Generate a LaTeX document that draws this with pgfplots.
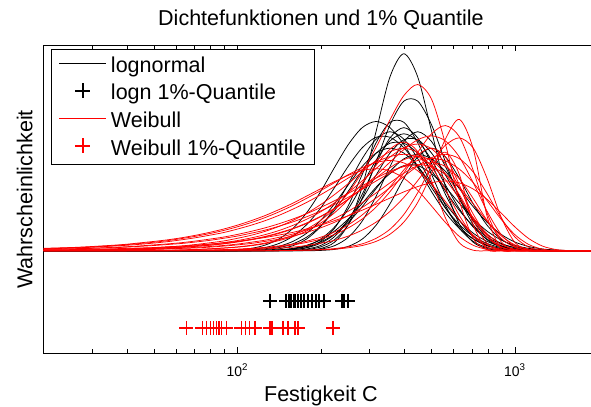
\documentclass[border=0pt]{standalone}
\usepackage{fontspec}
\setmainfont{Liberation Sans}
\usepackage{pgfplots}
\usepackage{pgfplotstable}
\pgfplotsset{compat=1.18}

% lognormal densities (one column per fitted sample)
\pgfplotstableread{
x b1 b2 b3 b4 b5 b6 b7 b8 b9 b10 b11 b12 b13 b14 b15
19.95 0 0 0 0 0 0 0 0 0 0 0 0 0 0 0
79.43 0 0 0 0 0 0 0 0 0 0 0 0 0 0 0
89.13 0 0 .002 0 0 0 .001 0 0 0 0 0 0 0 0
100 0 0 .005 0 0 0 .003 0 .001 0 0 .001 0 0 0
112.2 0 0 .012 0 .001 0 .007 0 .002 0 0 .004 0 .001 0
125.9 0 0 .028 0 .003 .001 .016 0 .006 0 0 .010 .001 .002 0
141.3 0 0 .058 .001 .010 .003 .036 0 .016 .002 0 .022 .004 .005 .001
158.5 0 .001 .109 .005 .025 .010 .071 .001 .034 .006 0 .046 .009 .012 .002
177.8 .002 .006 .186 .016 .058 .025 .128 .002 .067 .015 0 .086 .021 .027 .009
199.5 .011 .019 .288 .046 .118 .057 .208 .008 .121 .037 .002 .148 .043 .053 .026
223.9 .042 .054 .406 .110 .209 .116 .308 .025 .197 .080 .007 .229 .081 .096 .069
251.2 .130 .128 .518 .221 .327 .205 .413 .066 .291 .151 .022 .322 .139 .156 .150
281.8 .312 .257 .600 .372 .449 .321 .502 .145 .391 .252 .057 .411 .215 .231 .275
316.2 .582 .433 .630 .526 .544 .442 .553 .266 .475 .369 .125 .476 .303 .310 .424
354.8 .847 .613 .600 .626 .580 .535 .553 .410 .524 .476 .229 .500 .387 .376 .550
398.1 .960 .729 .518 .626 .544 .570 .502 .532 .524 .541 .353 .476 .448 .415 .600
446.7 .847 .729 .406 .526 .449 .535 .413 .580 .475 .541 .458 .411 .470 .415 .550
501.2 .582 .613 .288 .372 .327 .442 .308 .532 .391 .476 .500 .322 .448 .376 .424
562.3 .312 .433 .186 .221 .209 .321 .208 .410 .291 .369 .458 .229 .387 .310 .275
631.0 .130 .257 .109 .110 .118 .205 .128 .266 .197 .252 .353 .148 .303 .231 .150
707.9 .042 .128 .058 .046 .058 .116 .071 .145 .121 .151 .229 .086 .215 .156 .069
794.3 .011 .054 .028 .016 .025 .057 .036 .066 .067 .080 .125 .046 .139 .096 .026
891.3 .002 .019 .012 .005 .010 .025 .016 .025 .034 .037 .057 .022 .081 .053 .009
1000 0 .006 .005 .001 .003 .010 .007 .008 .016 .015 .022 .010 .043 .027 .002
1122 0 .001 .002 0 .001 .003 .003 .002 .006 .006 .007 .004 .021 .012 .001
1259 0 0 0 0 0 .001 .001 .001 .002 .002 .002 .001 .009 .005 0
1413 0 0 0 0 0 0 0 0 .001 0 0 0 .004 .002 0
1585 0 0 0 0 0 0 0 0 0 0 0 0 .001 .001 0
1778 0 0 0 0 0 0 0 0 0 0 0 0 0 0 0
1995 0 0 0 0 0 0 0 0 0 0 0 0 0 0 0
}\lognormtab

% Weibull densities (one column per fitted sample)
\pgfplotstableread{
x r1 r2 r3 r4 r5 r6 r7 r8 r9 r10 r11 r12 r13 r14 r15 r16 r17 r18 r19
19.95 0 0 0 .002 .002 .010 .007 .001 .002 0 .011 .004 .007 .001 0 0 .002 0 .012
22.39 0 0 0 .002 .003 .011 .008 .001 .003 0 .013 .005 .009 .002 0 0 .002 0 .014
25.12 0 0 0 .003 .003 .014 .009 .002 .004 0 .015 .006 .010 .002 0 0 .003 0 .016
28.18 0 0 0 .003 .004 .016 .011 .002 .005 0 .018 .007 .012 .003 0 0 .004 0 .019
31.62 0 0 0 .004 .005 .019 .013 .003 .006 0 .021 .008 .014 .003 0 0 .005 0 .023
35.48 .001 0 0 .005 .006 .023 .015 .004 .008 0 .025 .010 .017 .004 0 0 .006 0 .027
39.81 .001 0 0 .007 .008 .027 .018 .005 .010 0 .030 .012 .020 .005 .001 0 .007 0 .032
44.67 .002 0 0 .009 .010 .032 .022 .006 .012 0 .036 .014 .024 .007 .002 0 .009 0 .039
50.12 .002 0 0 .011 .013 .038 .026 .007 .015 .001 .042 .016 .029 .008 .002 0 .011 0 .046
56.23 .003 0 .001 .014 .016 .045 .031 .009 .019 .002 .050 .020 .034 .011 .003 0 .014 0 .054
63.10 .005 0 .002 .017 .020 .054 .036 .012 .024 .002 .060 .023 .040 .013 .004 0 .018 .001 .064
70.79 .007 0 .003 .022 .025 .064 .043 .014 .031 .003 .071 .028 .048 .017 .006 0 .022 .002 .076
79.43 .010 0 .004 .027 .032 .076 .051 .018 .039 .004 .084 .033 .057 .021 .009 0 .028 .002 .090
89.13 .014 0 .005 .034 .040 .089 .061 .023 .048 .006 .099 .039 .067 .026 .013 0 .035 .003 .106
100 .019 0 .007 .043 .050 .106 .072 .029 .061 .008 .117 .046 .080 .033 .018 0 .045 .005 .125
112.2 .027 0 .010 .054 .063 .125 .086 .036 .076 .012 .138 .055 .095 .042 .025 0 .056 .007 .147
125.9 .038 0 .014 .068 .079 .147 .101 .046 .095 .017 .162 .065 .112 .052 .035 .001 .070 .009 .172
141.3 .054 .001 .020 .085 .099 .173 .120 .057 .119 .024 .190 .077 .132 .066 .050 .001 .088 .013 .201
158.5 .076 .002 .029 .107 .124 .203 .141 .072 .148 .033 .221 .090 .155 .082 .069 .002 .109 .018 .232
177.8 .106 .003 .041 .133 .154 .236 .166 .090 .183 .047 .256 .107 .181 .102 .097 .004 .136 .026 .267
199.5 .148 .005 .057 .166 .190 .273 .194 .112 .225 .066 .293 .125 .211 .127 .135 .006 .168 .037 .302
223.9 .206 .008 .080 .205 .234 .313 .226 .139 .274 .092 .332 .147 .244 .157 .185 .011 .207 .051 .337
251.2 .283 .015 .112 .252 .284 .355 .261 .172 .328 .127 .371 .171 .280 .193 .250 .020 .252 .072 .368
281.8 .383 .026 .155 .306 .341 .396 .300 .211 .385 .175 .405 .198 .317 .235 .330 .034 .302 .101 .391
316.2 .504 .046 .213 .367 .401 .433 .340 .257 .440 .236 .430 .227 .354 .282 .417 .061 .355 .140 .400
354.8 .638 .081 .288 .432 .457 .459 .379 .308 .483 .311 .440 .257 .387 .331 .495 .105 .405 .192 .389
398.1 .756 .140 .379 .493 .502 .470 .414 .362 .500 .394 .428 .287 .410 .378 .530 .177 .444 .260 .354
446.7 .810 .236 .480 .541 .520 .457 .440 .413 .478 .467 .390 .313 .420 .415 .483 .283 .460 .342 .295
501.2 .738 .378 .570 .560 .497 .416 .450 .454 .408 .500 .324 .332 .409 .430 .340 .409 .440 .433 .218
562.3 .520 .545 .610 .535 .424 .346 .438 .470 .297 .456 .240 .340 .372 .411 .160 .480 .375 .514 .138
631.0 .244 .640 .556 .457 .309 .256 .398 .449 .172 .321 .151 .331 .310 .351 .039 .372 .273 .550 .070
707.9 .060 .497 .392 .332 .179 .162 .332 .384 .073 .151 .077 .301 .229 .255 .003 .127 .158 .501 .027
794.3 .005 .169 .184 .193 .075 .083 .245 .279 .019 .037 .030 .251 .145 .148 0 .008 .067 .353 .007
891.3 0 .011 .045 .081 .020 .032 .155 .162 .003 .003 .008 .185 .074 .062 0 0 .018 .166 .001
1000 0 0 .004 .022 .003 .008 .079 .068 0 0 .001 .117 .029 .017 0 0 .003 .041 0
1122 0 0 0 .003 0 .001 .031 .018 0 0 0 .060 .008 .002 0 0 0 .004 0
1259 0 0 0 0 0 0 .008 .003 0 0 0 .023 .001 0 0 0 0 0 0
1413 0 0 0 0 0 0 .001 0 0 0 0 .006 0 0 0 0 0 0 0
1585 0 0 0 0 0 0 0 0 0 0 0 .001 0 0 0 0 0 0 0
1778 0 0 0 0 0 0 0 0 0 0 0 0 0 0 0 0 0 0 0
1995 0 0 0 0 0 0 0 0 0 0 0 0 0 0 0 0 0 0 0
}\weibulltab

\begin{document}
\begin{tikzpicture}
\path[use as bounding box] (0,0) rectangle (591bp,407bp);
\begin{axis}[
  at={(43.5bp,53.5bp)}, anchor=south west,
  scale only axis, width=554.8bp, height=308bp,
  xmode=log, xmin=20, xmax=2000, ymin=-0.5, ymax=1,
  xtick={100,1000}, xticklabels={10\textsuperscript{2},10\textsuperscript{3}},
  minor xtick={20,30,40,50,60,70,80,90,200,300,400,500,600,700,800,900},
  ytick=\empty,
  tick align=inside, major tick length=6bp, minor tick length=4bp,
  tick style={black, line width=0.6bp},
  axis line style={line width=0.8bp},
  xticklabel style={font=\fontsize{14}{16}\selectfont, anchor=base, yshift=-22.5bp},
  title={Dichtefunktionen und 1\% Quantile},
  title style={at={(axis description cs:0.5,1)}, anchor=base, yshift=14bp, font=\fontsize{21.6}{26}\selectfont},
  xlabel={Festigkeit C},
  xlabel style={at={(axis description cs:0.5,0)}, anchor=base, yshift=-48bp, font=\fontsize{21.6}{26}\selectfont},
  ylabel={Wahrscheinlichkeit},
  ylabel style={at={([xshift=-11.2bp]axis description cs:0,0.5)}, anchor=base, font=\fontsize{21.6}{26}\selectfont},
  legend style={at={(axis description cs:0.014,0.989)}, anchor=north west, draw=black, line width=0.6bp, fill=white,
    inner xsep=7.2bp, inner ysep=5.5bp, font=\fontsize{21.6}{26}\selectfont, row sep=6.5bp, column sep=2.5bp, nodes={inner sep=2bp}},
  legend cell align=left,
  legend image code/.code={\draw[mark repeat=2,mark phase=2,#1] plot coordinates {(0bp,2bp) (23.5bp,2bp) (47bp,2bp)};},
]
\addlegendimage{black, line width=0.7bp}
\addlegendentry{lognormal}
\addlegendimage{black, only marks, mark=+, mark size=7.5bp, line width=1.8bp}
\addlegendentry{logn 1\%-Quantile}
\addlegendimage{red, line width=0.7bp}
\addlegendentry{Weibull}
\addlegendimage{red, only marks, mark=+, mark size=7.5bp, line width=1.8bp}
\addlegendentry{Weibull 1\%-Quantile}

\pgfplotsinvokeforeach{b1,b2,b3,b4,b5,b6,b7,b8,b9,b10,b11,b12,b13,b14,b15}{
  \addplot[black, line width=0.75bp, smooth, forget plot] table[x=x, y=#1] {\lognormtab};
}
\pgfplotsinvokeforeach{r1,r2,r3,r4,r5,r6,r7,r8,r9,r10,r11,r12,r13,r14,r15,r16,r17,r18,r19}{
  \addplot[red, line width=0.75bp, smooth, forget plot] table[x=x, y=#1] {\weibulltab};
}

\addplot[black, only marks, mark=+, mark size=7bp, line width=1.8bp, forget plot] coordinates {
(131,-0.245) (150,-0.245) (153,-0.245) (156,-0.245) (160,-0.245) (162,-0.245)
(165,-0.245) (169,-0.245) (174,-0.245) (180,-0.245) (186,-0.245) (192,-0.245)
(197,-0.245) (205,-0.245) (238,-0.245) (243,-0.245) (250,-0.245)};
\addplot[red, only marks, mark=+, mark size=7bp, line width=1.8bp, forget plot] coordinates {
(65.5,-0.375) (74.8,-0.375) (77.4,-0.375) (80.0,-0.375) (82.0,-0.375) (84.0,-0.375)
(86.1,-0.375) (87.6,-0.375) (91.3,-0.375) (103.4,-0.375) (106.9,-0.375) (110.5,-0.375)
(116.1,-0.375) (130.9,-0.375) (133.6,-0.375) (146.4,-0.375) (152.6,-0.375) (161.7,-0.375)
(165.1,-0.375) (221.4,-0.375)};
\end{axis}
\end{tikzpicture}
\end{document}
